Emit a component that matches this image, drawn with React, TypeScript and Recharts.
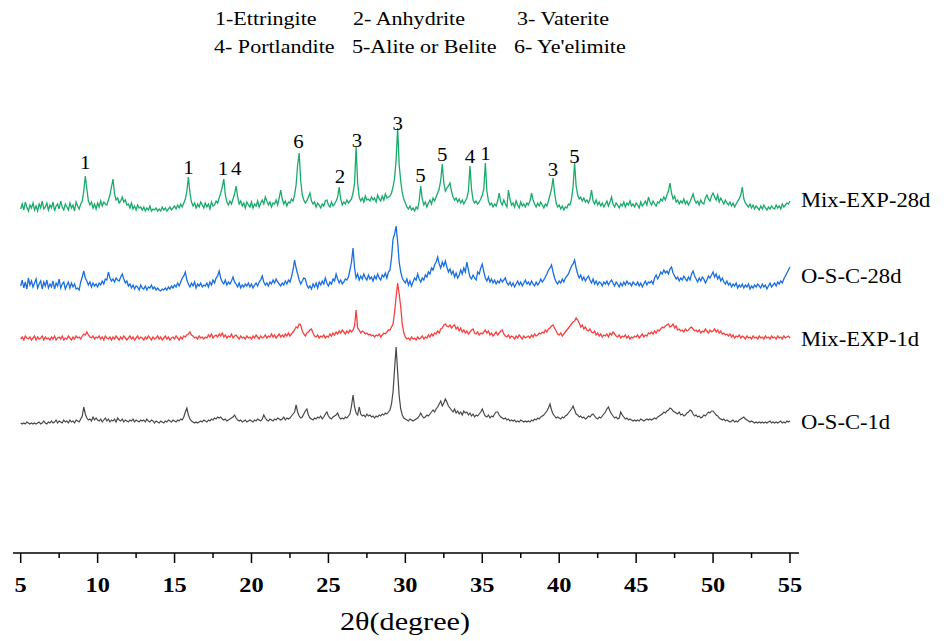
import React from 'react';
import { ComposedChart, Line, XAxis, YAxis, Scatter } from 'recharts';

// 2θ grid: 5.0° .. 55.0° in 0.1° steps (501 points), intensities in a.u.
const THETA_START = 5;
const THETA_STEP = 0.1;

const mixExp28d = [
  4, 9, 3, 11, 6, 2, 8, 5, 10, 3, // 5
  7, 2, 9, 5, 12, 4, 6, 10, 3, 8, // 6
  5, 11, 2, 7, 9, 4, 12, 6, 3, 9, // 7
  6, 3, 10, 5, 8, 2, 11, 7, 4, 9, // 8
  12, 22, 37, 24, 12, 8, 11, 5, 9, 4, // 9
  10, 6, 12, 7, 11, 9, 8, 13, 18, 26, // 10
  34, 19, 13, 15, 10, 12, 16, 11, 13, 8, // 11
  9, 5, 10, 4, 7, 3, 8, 5, 6, 3, // 12
  6, 2, 5, 3, 7, 2, 4, 3, 5, 2, // 13
  4, 2, 6, 3, 5, 2, 4, 6, 3, 5, // 14
  7, 4, 8, 5, 9, 6, 10, 14, 22, 36, // 15
  20, 11, 7, 10, 5, 9, 6, 11, 8, 5, // 16
  10, 6, 9, 4, 11, 7, 8, 12, 10, 15, // 17
  20, 26, 34, 18, 11, 8, 12, 9, 14, 19, // 18
  27, 16, 9, 12, 7, 10, 5, 11, 8, 6, // 19
  11, 5, 9, 7, 12, 6, 10, 13, 9, 16, // 20
  12, 8, 11, 6, 10, 9, 13, 8, 15, 23, // 21
  14, 9, 12, 7, 11, 10, 14, 12, 18, 28, // 22
  48, 60, 32, 18, 13, 10, 12, 16, 20, 12, // 23
  9, 11, 6, 10, 8, 5, 9, 7, 12, 13, // 24
  8, 6, 11, 7, 9, 12, 16, 26, 14, 8, // 25
  11, 9, 13, 10, 12, 14, 20, 30, 66, 30, // 26
  16, 12, 15, 11, 17, 13, 14, 12, 16, 13, // 27
  15, 11, 18, 14, 12, 17, 13, 19, 15, 16, // 28
  17, 20, 26, 35, 53, 85, 48, 32, 20, 14, // 29
  10, 6, 4, 7, 3, 5, 2, 6, 4, 12, // 30
  27, 14, 8, 11, 6, 10, 13, 9, 15, 12, // 31
  16, 20, 24, 33, 49, 30, 22, 25, 27, 30, // 32
  22, 16, 13, 15, 11, 14, 10, 13, 9, 12, // 33
  15, 22, 47, 24, 13, 10, 12, 9, 11, 14, // 34
  18, 24, 50, 22, 12, 8, 10, 6, 9, 7, // 35
  12, 20, 11, 8, 13, 9, 6, 23, 14, 8, // 36
  10, 6, 12, 8, 5, 11, 7, 9, 6, 10, // 37
  8, 12, 20, 13, 9, 6, 10, 7, 11, 8, // 38
  5, 9, 7, 12, 18, 24, 35, 20, 10, 6, // 39
  8, 4, 7, 3, 6, 5, 9, 8, 14, 26, // 40
  50, 27, 18, 14, 16, 12, 15, 11, 13, 10, // 41
  14, 23, 12, 9, 13, 8, 11, 7, 10, 6, // 42
  9, 12, 7, 11, 16, 9, 6, 10, 8, 5, // 43
  9, 7, 11, 6, 10, 8, 12, 7, 9, 6, // 44
  10, 8, 5, 11, 7, 9, 12, 8, 16, 11, // 45
  8, 12, 9, 7, 11, 10, 14, 12, 16, 13, // 46
  18, 22, 30, 20, 14, 17, 11, 13, 9, 12, // 47
  10, 14, 9, 12, 8, 11, 15, 19, 13, 10, // 48
  12, 8, 13, 10, 9, 15, 18, 14, 12, 17, // 49
  20, 16, 13, 18, 11, 15, 12, 9, 13, 10, // 50
  8, 11, 7, 10, 6, 9, 12, 14, 18, 26, // 51
  14, 10, 8, 6, 9, 5, 8, 4, 7, 5, // 52
  3, 7, 4, 8, 5, 3, 6, 4, 7, 5, // 53
  4, 8, 5, 7, 4, 9, 6, 8, 10, 9, // 54
  12,
];

const osc28d = [
  6, 12, 4, 10, 3, 14, 7, 11, 5, 9, // 5
  13, 4, 8, 11, 3, 10, 6, 12, 4, 8, // 6
  5, 11, 3, 9, 6, 13, 4, 8, 10, 3, // 7
  7, 10, 4, 9, 5, 8, 3, 4, 2, 10, // 8
  15, 21, 14, 11, 7, 10, 5, 9, 6, 8, // 9
  5, 9, 7, 11, 8, 13, 12, 20, 14, 11, // 10
  13, 10, 14, 12, 11, 15, 18, 13, 9, 11, // 11
  6, 8, 4, 7, 3, 6, 5, 2, 7, 4, // 12
  3, 6, 2, 5, 4, 7, 3, 5, 2, 4, // 13
  2, 1, 3, 2, 4, 2, 5, 3, 6, 4, // 14
  7, 5, 9, 6, 10, 14, 16, 20, 12, 8, // 15
  5, 9, 6, 10, 4, 8, 6, 9, 5, 7, // 16
  6, 9, 5, 10, 7, 12, 9, 14, 16, 21, // 17
  14, 10, 8, 12, 7, 10, 8, 11, 15, 10, // 18
  8, 5, 9, 4, 7, 5, 8, 6, 9, 5, // 19
  8, 4, 7, 9, 6, 10, 12, 16, 10, 7, // 20
  9, 6, 10, 8, 12, 9, 13, 10, 8, 6, // 21
  9, 7, 11, 8, 12, 10, 15, 22, 32, 24, // 22
  18, 12, 8, 11, 14, 13, 7, 4, 6, 3, // 23
  8, 5, 9, 4, 10, 7, 11, 8, 14, 9, // 24
  6, 10, 8, 13, 11, 18, 13, 9, 12, 8, // 25
  10, 13, 12, 15, 22, 30, 44, 24, 14, 18, // 26
  12, 16, 13, 18, 14, 12, 17, 13, 15, 11, // 27
  16, 13, 18, 14, 12, 17, 15, 19, 14, 20, // 28
  22, 34, 53, 58, 66, 50, 30, 20, 14, 11, // 29
  9, 13, 7, 11, 6, 10, 14, 12, 18, 13, // 30
  10, 14, 12, 17, 15, 20, 18, 24, 22, 27, // 31
  30, 35, 28, 24, 30, 26, 31, 25, 20, 23, // 32
  18, 21, 15, 19, 14, 17, 22, 18, 24, 20, // 33
  30, 22, 15, 13, 17, 14, 12, 20, 18, 24, // 34
  28, 20, 14, 11, 15, 10, 13, 9, 12, 8, // 35
  11, 9, 13, 10, 12, 14, 9, 7, 10, 6, // 36
  9, 5, 8, 11, 7, 10, 6, 9, 12, 8, // 37
  10, 7, 11, 8, 6, 10, 7, 9, 13, 10, // 38
  12, 15, 18, 22, 24, 27, 20, 14, 10, 8, // 39
  11, 9, 13, 10, 14, 16, 18, 22, 26, 28, // 40
  32, 24, 18, 14, 17, 12, 15, 11, 14, 16, // 41
  12, 9, 13, 8, 11, 7, 10, 9, 6, 10, // 42
  8, 11, 7, 10, 12, 9, 6, 10, 8, 5, // 43
  9, 6, 10, 7, 11, 8, 9, 6, 10, 8, // 44
  7, 10, 6, 9, 5, 8, 11, 7, 10, 9, // 45
  11, 8, 14, 17, 13, 16, 20, 18, 22, 19, // 46
  21, 18, 23, 25, 19, 16, 13, 15, 11, 14, // 47
  12, 16, 13, 11, 15, 12, 18, 21, 16, 13, // 48
  10, 14, 11, 15, 13, 9, 12, 16, 14, 17, // 49
  20, 15, 18, 13, 16, 11, 14, 10, 8, 11, // 50
  7, 9, 5, 8, 6, 9, 4, 7, 5, 8, // 51
  4, 7, 5, 8, 3, 6, 4, 7, 5, 8, // 52
  6, 4, 8, 5, 7, 3, 6, 9, 5, 7, // 53
  9, 6, 10, 8, 11, 9, 13, 16, 19, 22, // 54
  25,
];

const mixExp1d = [
  3, 5, 2, 6, 4, 3, 5, 2, 4, 6, // 5
  2, 5, 3, 4, 6, 2, 5, 3, 4, 2, // 6
  5, 3, 6, 2, 4, 5, 3, 6, 2, 4, // 7
  3, 6, 4, 2, 5, 3, 6, 4, 5, 3, // 8
  6, 8, 7, 10, 7, 5, 4, 6, 3, 5, // 9
  4, 6, 3, 5, 2, 6, 4, 3, 5, 2, // 10
  5, 3, 6, 4, 2, 5, 3, 6, 4, 2, // 11
  4, 6, 3, 5, 2, 4, 6, 3, 5, 4, // 12
  2, 5, 3, 6, 4, 2, 5, 3, 4, 6, // 13
  3, 5, 2, 4, 6, 3, 5, 2, 4, 5, // 14
  3, 6, 4, 2, 5, 3, 6, 5, 7, 8, // 15
  10, 7, 6, 4, 5, 3, 6, 4, 5, 3, // 16
  5, 4, 7, 5, 8, 4, 6, 7, 5, 8, // 17
  6, 9, 5, 7, 4, 6, 5, 8, 4, 6, // 18
  7, 5, 3, 6, 4, 5, 3, 6, 4, 5, // 19
  3, 6, 4, 7, 5, 3, 6, 4, 5, 7, // 20
  4, 6, 5, 8, 5, 7, 4, 6, 8, 5, // 21
  7, 5, 8, 6, 9, 6, 8, 10, 12, 15, // 22
  14, 18, 17, 11, 8, 6, 9, 10, 12, 13, // 23
  9, 6, 5, 7, 4, 6, 5, 7, 4, 6, // 24
  5, 8, 6, 9, 7, 10, 8, 11, 9, 12, // 25
  10, 8, 11, 9, 12, 10, 12, 16, 32, 14, // 26
  12, 9, 11, 10, 8, 9, 7, 8, 6, 7, // 27
  5, 7, 6, 8, 5, 7, 9, 8, 10, 12, // 28
  12, 15, 18, 30, 45, 59, 48, 35, 18, 9, // 29
  5, 3, 4, 2, 5, 3, 4, 2, 5, 3, // 30
  4, 6, 3, 5, 4, 7, 5, 8, 6, 9, // 31
  8, 11, 9, 13, 14, 17, 18, 16, 15, 17, // 32
  14, 16, 17, 13, 15, 11, 14, 10, 12, 9, // 33
  11, 8, 10, 12, 13, 9, 8, 10, 7, 9, // 34
  8, 10, 12, 9, 11, 7, 9, 6, 8, 10, // 35
  7, 9, 11, 12, 8, 6, 5, 7, 4, 6, // 36
  5, 3, 6, 4, 7, 5, 3, 6, 4, 5, // 37
  6, 4, 7, 5, 8, 6, 7, 9, 8, 10, // 38
  9, 12, 10, 13, 14, 16, 17, 14, 11, 8, // 39
  7, 9, 6, 8, 10, 12, 14, 16, 18, 20, // 40
  21, 24, 22, 19, 15, 17, 13, 15, 12, 11, // 41
  13, 10, 9, 11, 7, 9, 6, 8, 5, 7, // 42
  6, 8, 5, 9, 7, 10, 8, 6, 5, 7, // 43
  4, 6, 5, 7, 4, 6, 3, 5, 4, 6, // 44
  5, 7, 4, 6, 8, 5, 7, 6, 9, 8, // 45
  10, 8, 11, 9, 12, 11, 13, 15, 14, 16, // 46
  17, 18, 15, 16, 18, 14, 16, 12, 13, 11, // 47
  12, 10, 13, 11, 12, 14, 15, 13, 11, 12, // 48
  10, 12, 9, 11, 10, 13, 11, 9, 12, 10, // 49
  11, 13, 10, 12, 9, 11, 8, 9, 7, 8, // 50
  6, 8, 5, 7, 4, 6, 5, 7, 4, 6, // 51
  5, 3, 6, 4, 5, 3, 6, 4, 5, 3, // 52
  6, 4, 5, 3, 6, 4, 5, 3, 6, 4, // 53
  5, 3, 6, 4, 5, 3, 6, 4, 5, 6, // 54
  4,
];

const osc1d = [
  1, 0, 1, 0, 2, 1, 0, 1, 0, 1, // 5
  0, 1, 2, 0, 1, 3, 1, 0, 2, 1, // 6
  3, 1, 2, 4, 1, 3, 2, 1, 4, 2, // 7
  3, 1, 4, 2, 3, 1, 4, 3, 2, 5, // 8
  8, 17, 10, 6, 4, 5, 3, 7, 4, 6, // 9
  4, 3, 5, 2, 4, 6, 3, 5, 2, 4, // 10
  3, 5, 2, 6, 4, 3, 5, 2, 4, 3, // 11
  2, 4, 3, 5, 2, 4, 3, 2, 4, 3, // 12
  4, 2, 5, 3, 2, 4, 3, 1, 3, 2, // 13
  1, 3, 2, 1, 3, 2, 4, 3, 2, 4, // 14
  3, 2, 4, 3, 5, 4, 7, 12, 16, 9, // 15
  5, 3, 2, 1, 2, 1, 2, 3, 2, 4, // 16
  3, 2, 4, 3, 5, 4, 6, 5, 7, 6, // 17
  7, 5, 4, 5, 3, 4, 5, 6, 7, 9, // 18
  6, 4, 3, 4, 2, 3, 4, 2, 3, 4, // 19
  3, 2, 4, 3, 5, 4, 3, 5, 9, 6, // 20
  4, 3, 5, 4, 3, 5, 4, 6, 5, 4, // 21
  5, 7, 4, 6, 5, 6, 8, 10, 12, 19, // 22
  12, 8, 6, 7, 10, 13, 15, 9, 6, 5, // 23
  4, 6, 5, 7, 6, 8, 5, 7, 10, 12, // 24
  8, 6, 5, 7, 8, 9, 11, 7, 5, 6, // 25
  5, 7, 6, 8, 10, 18, 29, 17, 11, 9, // 26
  17, 10, 8, 9, 7, 10, 8, 9, 7, 8, // 27
  6, 8, 7, 9, 8, 10, 9, 11, 10, 12, // 28
  14, 20, 32, 55, 77, 52, 28, 15, 9, 6, // 29
  5, 4, 3, 5, 4, 3, 4, 5, 6, 8, // 30
  11, 8, 6, 7, 9, 8, 10, 12, 14, 12, // 31
  15, 17, 20, 23, 18, 21, 25, 22, 18, 16, // 32
  14, 12, 15, 11, 13, 10, 12, 9, 13, 11, // 33
  12, 9, 11, 8, 10, 7, 9, 8, 10, 12, // 34
  15, 11, 8, 7, 9, 6, 8, 7, 10, 12, // 35
  12, 9, 7, 6, 5, 6, 4, 5, 3, 4, // 36
  3, 4, 2, 3, 2, 4, 3, 2, 3, 2, // 37
  3, 2, 4, 3, 5, 4, 6, 5, 7, 8, // 38
  9, 11, 13, 16, 20, 14, 10, 8, 6, 7, // 39
  6, 5, 7, 6, 8, 9, 11, 13, 15, 18, // 40
  14, 10, 9, 7, 8, 6, 7, 5, 6, 8, // 41
  7, 9, 10, 8, 6, 5, 7, 6, 8, 10, // 42
  12, 15, 17, 13, 10, 8, 6, 7, 5, 6, // 43
  12, 9, 7, 5, 6, 4, 5, 4, 3, 4, // 44
  3, 4, 3, 5, 4, 3, 4, 5, 4, 5, // 45
  4, 5, 6, 5, 7, 8, 9, 10, 12, 11, // 46
  13, 14, 16, 15, 13, 12, 11, 10, 12, 9, // 47
  10, 8, 9, 11, 12, 14, 13, 10, 8, 9, // 48
  7, 8, 6, 7, 9, 8, 10, 12, 11, 13, // 49
  13, 11, 9, 8, 6, 5, 4, 5, 3, 4, // 50
  3, 2, 3, 4, 2, 3, 2, 4, 5, 6, // 51
  7, 5, 4, 3, 2, 3, 2, 1, 2, 1, // 52
  2, 1, 2, 1, 2, 1, 2, 3, 1, 2, // 53
  1, 2, 1, 2, 3, 1, 2, 1, 3, 2, // 54
  3,
];

// Phase markers on the Mix-EXP-28d pattern
const peakTheta = [9.2, 15.9, 18.15, 19.0, 23.05, 25.75, 26.85, 29.5, 30.98, 32.4, 34.2, 35.2, 39.6, 41.0];
const peakLabels = ['1', '1', '1', '4', '6', '2', '3', '3', '5', '5', '4', '1', '3', '5'];
const peakLabelLevel = [50, 45, 44, 44, 71, 36, 72, 89, 37, 58, 56, 59, 43, 56];

const legendLine1 = ['1-Ettringite', '2- Anhydrite', '3- Vaterite'];
const legendLine2 = ['4- Portlandite', '5-Alite or Belite', '6- Ye\'elimite'];
const seriesNames = ['Mix-EXP-28d', 'O-S-C-28d', 'Mix-EXP-1d', 'O-S-C-1d'];

const xTicks = [5, 7.5, 10, 12.5, 15, 17.5, 20, 22.5, 25, 27.5, 30, 32.5, 35, 37.5, 40, 42.5, 45, 47.5, 50, 52.5, 55];

// vertical stacking offsets (layout)
const OFFSET = { g: 340, b: 261, r: 211, k: 129 };
const COLORS = { g: '#19ab6b', b: '#1a6fe0', r: '#f8403f', k: '#474747' };

const FONT = "'Liberation Serif', 'Times New Roman', Times, serif";
const STRETCH = 1.16; // the original lettering is horizontally wide

const W = 934;
const H = 633;

const data = mixExp28d.map((v, i) => ({
  theta: Math.round((THETA_START + i * THETA_STEP) * 10) / 10,
  g: v + OFFSET.g,
  b: osc28d[i] + OFFSET.b,
  r: mixExp1d[i] + OFFSET.r,
  k: osc1d[i] + OFFSET.k,
}));

const annotations = peakTheta.map((t, i) => ({
  theta: t,
  ann: peakLabelLevel[i] + OFFSET.g,
  label: peakLabels[i],
}));

const AxisTick = (props: any) => {
  const { x, y, payload } = props;
  const v = payload.value as number;
  const major = Math.abs(v % 5) < 1e-9;
  return (
    <g>
      <line x1={x} x2={x} y1={y} y2={y + (major ? 10 : 5)} stroke="#000" strokeWidth={1.5} />
      {major && (
        <text
          x={0}
          y={0}
          transform={`translate(${x},${y + 39}) scale(${STRETCH},1)`}
          textAnchor="middle"
          fontFamily={FONT}
          fontWeight="bold"
          fontSize={21}
          fill="#000"
        >
          {v}
        </text>
      )}
    </g>
  );
};

const PeakLabel = (props: any) => {
  const { cx, cy, payload } = props;
  return (
    <text
      x={0}
      y={0}
      transform={`translate(${cx},${cy}) scale(${STRETCH},1)`}
      textAnchor="middle"
      dominantBaseline="central"
      fontFamily={FONT}
      fontSize={18}
      fill="#000"
    >
      {payload.label}
    </text>
  );
};

const textStyle = (left: number, centerY: number, size: number, stretch = STRETCH): React.CSSProperties => ({
  position: 'absolute',
  left: left - 8,
  top: centerY - 8 - size / 2,
  fontFamily: FONT,
  fontSize: size,
  lineHeight: `${size}px`,
  whiteSpace: 'nowrap',
  color: '#000',
  transform: `scaleX(${stretch})`,
  transformOrigin: 'left center',
});

export default function App() {
  const legend1X = [215, 353, 517];
  const legend2X = [214, 352, 514];
  const nameY = [200, 276, 339, 422];
  return (
    <div style={{ position: 'relative', width: W, height: H, background: '#fff', overflow: 'visible' }}>
      <ComposedChart width={W} height={625} data={data} margin={{ top: 0, right: 143, bottom: 0, left: 5 }}>
        <XAxis
          dataKey="theta"
          type="number"
          domain={[4.5, 55.585]}
          ticks={xTicks}
          allowDataOverflow
          height={80}
          tickSize={0}
          tickMargin={0}
          tickLine={false}
          axisLine={{ stroke: '#000', strokeWidth: 1.5 }}
          tick={<AxisTick />}
          interval={0}
        />
        <YAxis hide type="number" domain={[0, 545]} allowDataOverflow />
        <Line dataKey="k" stroke={COLORS.k} strokeWidth={1.2} dot={false} type="linear" isAnimationActive={false} />
        <Line dataKey="r" stroke={COLORS.r} strokeWidth={1.3} dot={false} type="linear" isAnimationActive={false} />
        <Line dataKey="b" stroke={COLORS.b} strokeWidth={1.3} dot={false} type="linear" isAnimationActive={false} />
        <Line dataKey="g" stroke={COLORS.g} strokeWidth={1.3} dot={false} type="linear" isAnimationActive={false} />
        <Scatter data={annotations} dataKey="ann" shape={<PeakLabel />} isAnimationActive={false} />
      </ComposedChart>
      {legendLine1.map((t, i) => (
        <div key={'l1' + i} style={textStyle(legend1X[i], 18, 19)}>{t}</div>
      ))}
      {legendLine2.map((t, i) => (
        <div key={'l2' + i} style={textStyle(legend2X[i], 46, 19)}>{t}</div>
      ))}
      {seriesNames.map((t, i) => (
        <div key={'n' + i} style={textStyle(801, nameY[i], 20, 1.13)}>{t}</div>
      ))}
      <div
        style={{
          ...textStyle(0, 622, 26),
          left: 0,
          width: 794,
          textAlign: 'center',
          transformOrigin: 'center center',
        }}
      >
        2θ(degree)
      </div>
    </div>
  );
}
